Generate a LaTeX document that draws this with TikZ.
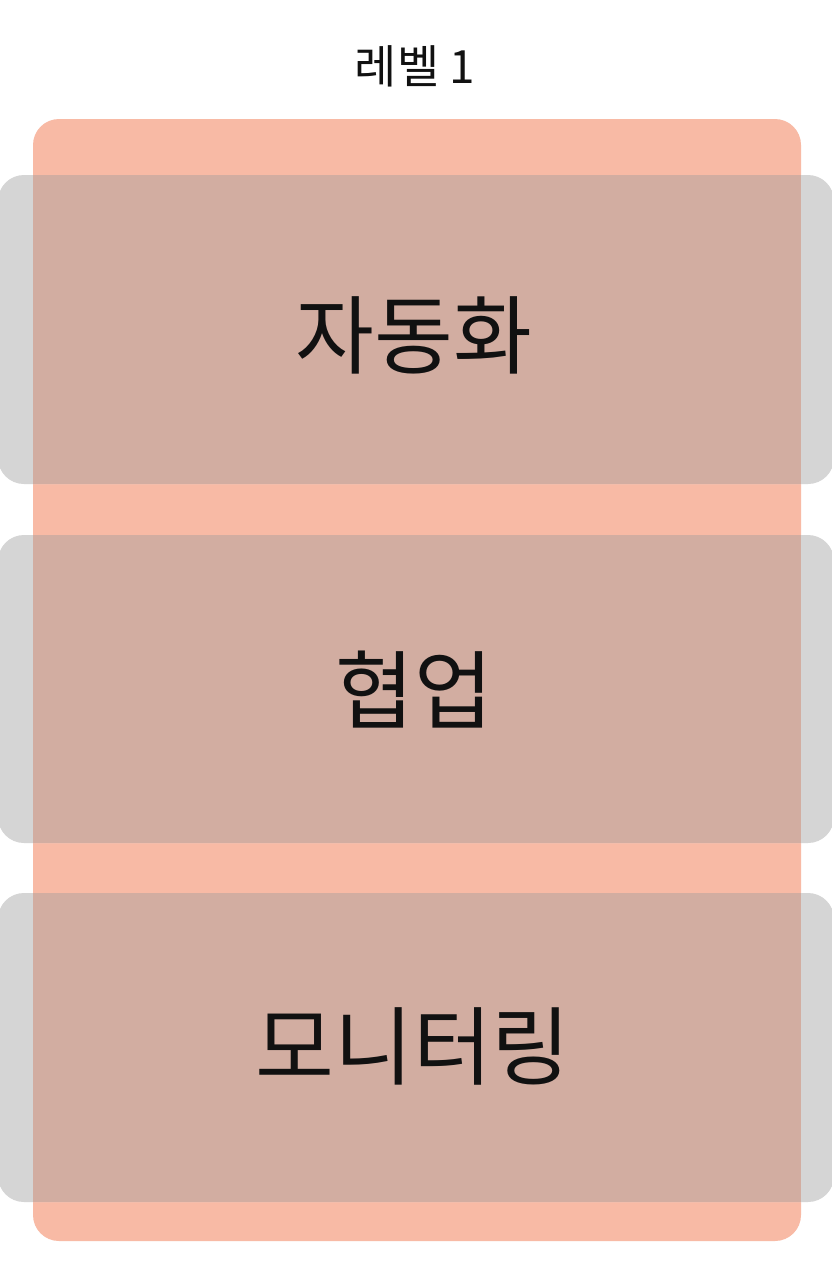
\documentclass[tikz,border=0pt]{standalone}
\usepackage{fontspec}
\newfontfamily\kr{Noto Sans CJK KR}
\definecolor{salmon}{HTML}{F8BAA5}
\definecolor{lgray}{HTML}{D5D5D5}
\definecolor{mix}{HTML}{D2ADA1}
\definecolor{ink}{HTML}{111111}
\tikzset{
  band/.style={fill=lgray, rounded corners=26bp},
  overlap/.style={fill=mix},
  bigtext/.style={font=\kr\fontsize{86}{96}\selectfont, text=ink, inner sep=0pt},
  titletext/.style={font=\kr\fontsize{46}{52}\selectfont, text=ink, inner sep=0pt}
}
\begin{document}
\begin{tikzpicture}[x=1bp,y=-1bp]
\useasboundingbox[fill=white] (0,0) rectangle (832,1280);
\fill[salmon, rounded corners=26bp] (33,119) rectangle (801,1241);
\foreach \ya/\yb in {175/484, 535/843, 893/1202}{
  \fill[band] (-2,\ya) rectangle (834,\yb);
  \fill[overlap] (33,\ya) rectangle (801,\yb);
}
\node[titletext] (title) at (415,66) {레벨 1};
\node[bigtext] (auto) at (414,335) {자동화};
\node[bigtext] (collab) at (414,690) {협업};
\node[bigtext] (monitor) at (413,1046) {모니터링};
\end{tikzpicture}
\end{document}
